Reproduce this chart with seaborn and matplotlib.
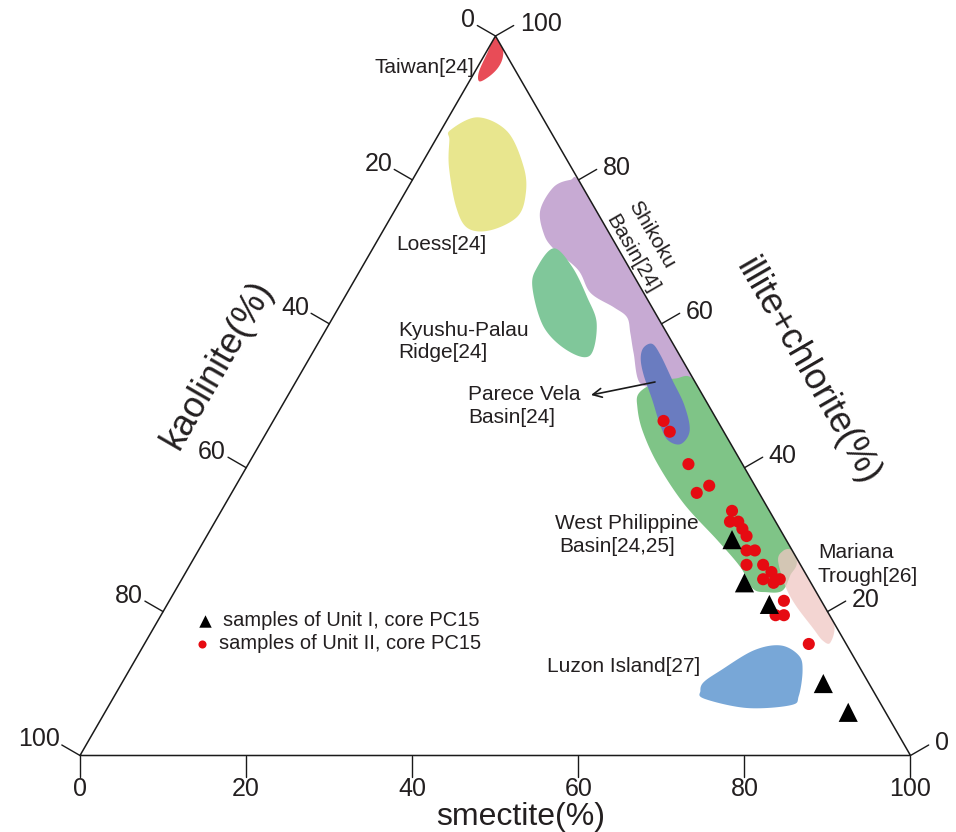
import numpy as np
import pandas as pd
import matplotlib
matplotlib.use("Agg")
import matplotlib.pyplot as plt
from matplotlib.patches import Polygon
import seaborn as sns

# ---------------- data (percent) ----------------
# core PC15, Unit I samples
unit1_smectite = [63.5, 68.0, 72.5, 84.5, 89.5]
unit1_illite_chlorite = [30.0, 24.0, 21.0, 10.0, 6.0]
unit1_kaolinite = [6.5, 8.0, 6.5, 5.5, 4.5]

# core PC15, Unit II samples
unit2_smectite = [47.0, 48.5, 53.0, 57.0, 56.0, 61.5, 62.0, 63.0, 64.0, 65.0, 66.0, 67.0,
                  67.0, 69.0, 70.0, 70.5, 71.5, 72.0, 71.5, 74.0, 74.0, 75.0, 80.0]
unit2_illite_chlorite = [46.5, 45.0, 40.5, 37.5, 36.5, 34.0, 32.5, 32.5, 31.5, 30.5, 28.5, 28.5,
                         26.5, 26.5, 24.5, 25.5, 24.5, 24.5, 24.0, 21.5, 19.5, 19.5, 15.5]
unit2_kaolinite = [6.5, 6.5, 6.5, 5.5, 7.5, 4.5, 5.5, 4.5, 4.5, 4.5, 5.5, 4.5,
                   6.5, 4.5, 5.5, 4.0, 4.0, 3.5, 4.5, 4.5, 6.5, 5.5, 4.5]

# reference source fields, outlines as (smectite, illite+chlorite)
taiwan_smectite = [0.0, 1.6, 2.4, 2.5, 2.0, 1.2, 0.5, 0.2]
taiwan_illite = [100.0, 98.5, 96.9, 95.5, 94.3, 93.7, 95.0, 97.6]

loess_smectite = [1.1, 3.5, 8.1, 12.5, 14.6, 15.2, 12.9, 10.0, 7.1, 3.5, 1.7]
loess_illite = [86.9, 88.7, 86.7, 81.8, 78.1, 74.9, 73.0, 73.3, 76.3, 81.8, 85.5]

shikoku_smectite = [17.5, 17.5, 19.0, 20.3, 28.0, 36.0, 43.0, 47.6, 44.4, 41.6, 38.7, 36.9,
                    35.4, 33.1, 29.3, 26.2, 21.7, 19.5]
shikoku_illite = [75.8, 79.0, 80.0, 79.7, 72.0, 64.0, 57.0, 52.4, 51.5, 51.7, 55.9, 58.7,
                  60.9, 62.3, 64.3, 67.5, 70.5, 72.6]

kyushu_smectite = [21.8, 21.1, 21.9, 26.0, 30.5, 33.6, 32.2, 29.2, 25.3]
kyushu_illite = [70.5, 67.9, 65.1, 59.6, 56.3, 55.6, 60.0, 63.7, 67.9]

parece_smectite = [39.5, 40.3, 42.1, 45.2, 48.4, 50.8, 50.7, 48.9, 46.9, 44.2, 41.4, 39.9]
parece_illite = [56.7, 57.2, 55.6, 52.2, 48.7, 45.2, 43.3, 43.8, 45.9, 49.4, 52.9, 55.2]

wpb_smectite = [42.9, 42.1, 43.2, 45.5, 47.8, 54.0, 60.0, 66.0, 72.4, 73.0, 73.1, 71.3,
                69.4, 66.4, 61.8, 55.2, 49.2, 45.1]
wpb_illite = [48.4, 50.3, 51.7, 52.4, 52.2, 46.0, 40.0, 34.0, 27.6, 25.0, 22.9, 22.7,
              23.2, 26.2, 29.9, 35.0, 40.6, 45.2]

mariana_smectite = [70.5, 70.4, 71.2, 72.5, 77.0, 81.5, 82.5, 81.4, 79.4, 75.7, 73.1]
mariana_illite = [27.1, 28.4, 28.65, 27.5, 23.0, 18.5, 15.7, 16.0, 17.7, 20.9, 23.6]

luzon_smectite = [70.2, 71.2, 77.0, 82.1, 82.4, 81.1, 79.6, 76.7, 73.8, 71.2, 70.0]
luzon_illite = [9.0, 7.9, 6.6, 7.0, 8.3, 11.8, 13.9, 15.3, 14.6, 11.8, 10.2]

tick_values = [0, 20, 40, 60, 80, 100]

# ---------------- ternary projection ----------------
# canvas in pixel units: kaolinite apex (left), smectite apex (right), illite+chlorite apex (top)
V_K = np.array([80.0, 755.5])
V_S = np.array([910.5, 755.5])
V_I = np.array([495.5, 36.0])


def tern(s, i):
    s = np.asarray(s, float) / 100.0
    i = np.asarray(i, float) / 100.0
    k = 1.0 - s - i
    x = k * V_K[0] + s * V_S[0] + i * V_I[0]
    y = k * V_K[1] + s * V_S[1] + i * V_I[1]
    return x, y


def smooth_closed(x, y, n=14):
    pts = np.column_stack([x, y])
    m = len(pts)
    t = np.linspace(0, 1, n, endpoint=False)[:, None]
    out = []
    for j in range(m):
        p0, p1, p2, p3 = pts[(j - 1) % m], pts[j], pts[(j + 1) % m], pts[(j + 2) % m]
        seg = 0.5 * (2 * p1 + (-p0 + p2) * t + (2 * p0 - 5 * p1 + 4 * p2 - p3) * t ** 2
                     + (-p0 + 3 * p1 - 3 * p2 + p3) * t ** 3)
        out.append(seg)
    return np.vstack(out)


sns.set_style("white")
plt.rcParams["font.family"] = ["Liberation Sans", "DejaVu Sans"]
TXT = "#231f20"

fig = plt.figure(figsize=(9.56, 8.32), dpi=100)
ax = fig.add_axes([0, 0, 1, 1])
ax.set_xlim(0, 956)
ax.set_ylim(832, 0)
ax.axis("off")

tri = Polygon([V_K, V_S, V_I], closed=True, facecolor="none", edgecolor="none")
ax.add_patch(tri)

fields = [
    (loess_smectite, loess_illite, "#e8e68e", 1.0),
    (shikoku_smectite, shikoku_illite, "#c7aad3", 1.0),
    (kyushu_smectite, kyushu_illite, "#80c79a", 1.0),
    (wpb_smectite, wpb_illite, "#7fc487", 1.0),
    (parece_smectite, parece_illite, "#6a7cc0", 1.0),
    (mariana_smectite, mariana_illite, "#f0c8c4", 0.75),
    (luzon_smectite, luzon_illite, "#78a7d7", 1.0),
    (taiwan_smectite, taiwan_illite, "#e84c57", 1.0),
]
for s_vals, i_vals, col, alpha in fields:
    fx, fy = tern(s_vals, i_vals)
    patch = Polygon(smooth_closed(fx, fy), closed=True, facecolor=col,
                    edgecolor="none", alpha=alpha, zorder=2)
    ax.add_patch(patch)
    patch.set_clip_path(tri)

# triangle frame
frame = np.array([V_K, V_S, V_I, V_K])
ax.plot(frame[:, 0], frame[:, 1], color="#1a1a1a", lw=1.1, zorder=3,
        solid_joinstyle="miter")

# ticks and tick labels
TL = 21.0
c30, s30 = np.cos(np.radians(30)), np.sin(np.radians(30))
for v in tick_values:
    # smectite (bottom)
    x0, y0 = tern(v, 0)
    ax.plot([x0, x0], [y0, y0 + TL], color="#1a1a1a", lw=1.0)
    ax.text(x0, y0 + TL + 20, str(v), ha="center", va="baseline", fontsize=18, color=TXT)
    # kaolinite (left side), kaolinite = v
    x0, y0 = tern(0, 100 - v)
    x1, y1 = x0 - TL * c30, y0 - TL * s30
    ax.plot([x0, x1], [y0, y1], color="#1a1a1a", lw=1.0)
    ax.text(x1 - 2, y1 - 8, str(v), ha="right", va="center_baseline", fontsize=18, color=TXT)
    # illite+chlorite (right side)
    x0, y0 = tern(100 - v, v)
    x1, y1 = x0 + TL * c30, y0 - TL * s30
    ax.plot([x0, x1], [y0, y1], color="#1a1a1a", lw=1.0)
    ax.text(x1 + 6, y1 - 4, str(v), ha="left", va="center_baseline", fontsize=18, color=TXT)

# axis titles
ax.text(521, 825, "smectite(%)", ha="center", va="baseline", fontsize=23, color=TXT)
ax.text(218, 365, "kaolinite(%)", ha="center", va="center", rotation=60,
        rotation_mode="anchor", fontsize=26, color=TXT)
ax.text(807, 372, "illite+chlorite(%)", ha="center", va="center", rotation=-60,
        rotation_mode="anchor", fontsize=26, color=TXT)

# sample points
df1 = pd.DataFrame({"smectite": unit1_smectite, "illite_chlorite": unit1_illite_chlorite,
                    "kaolinite": unit1_kaolinite})
df2 = pd.DataFrame({"smectite": unit2_smectite, "illite_chlorite": unit2_illite_chlorite,
                    "kaolinite": unit2_kaolinite})
for df in (df1, df2):
    df["x"], df["y"] = tern(df["smectite"], df["illite_chlorite"])

sns.scatterplot(data=df2, x="x", y="y", marker="o", s=76, color="#e60b12",
                edgecolor="none", linewidth=0, ax=ax, legend=False, zorder=5)
sns.scatterplot(data=df1, x="x", y="y", marker="^", s=190, color="black",
                edgecolor="none", linewidth=0, ax=ax, legend=False, zorder=6)
ax.set_xlim(0, 956)
ax.set_ylim(832, 0)
ax.set_xlabel("")
ax.set_ylabel("")

# field labels
LF = 15
ax.text(474, 73, "Taiwan[24]", ha="right", va="baseline", fontsize=LF, color=TXT)
ax.text(396, 250, "Loess[24]", ha="left", va="baseline", fontsize=LF, color=TXT)
ax.text(398, 336.5, "Kyushu-Palau", ha="left", va="baseline", fontsize=LF, color=TXT)
ax.text(398, 358, "Ridge[24]", ha="left", va="baseline", fontsize=LF, color=TXT)
ax.text(468, 400, "Parece Vela", ha="left", va="baseline", fontsize=LF, color=TXT)
ax.text(468, 423, "Basin[24]", ha="left", va="baseline", fontsize=LF, color=TXT)
ax.text(555, 529, "West Philippine", ha="left", va="baseline", fontsize=LF, color=TXT)
ax.text(559, 552, "Basin[24,25]", ha="left", va="baseline", fontsize=LF, color=TXT)
ax.text(818, 558, "Mariana", ha="left", va="baseline", fontsize=LF, color=TXT)
ax.text(818, 582, "Trough[26]", ha="left", va="baseline", fontsize=LF, color=TXT)
ax.text(547, 672, "Luzon Island[27]", ha="left", va="baseline", fontsize=LF, color=TXT)
ax.text(651, 235, "Shikoku", ha="center", va="center", rotation=-60,
        rotation_mode="anchor", fontsize=LF, color=TXT)
ax.text(632, 254, "Basin[24]", ha="center", va="center", rotation=-60,
        rotation_mode="anchor", fontsize=LF, color=TXT)

ax.annotate("", xy=(591, 395), xytext=(655, 382),
            arrowprops=dict(arrowstyle="->", color="#1a1a1a", lw=1.2,
                            mutation_scale=16, shrinkA=0, shrinkB=0), zorder=7)

# legend
ax.scatter([205], [621], marker="^", s=80, color="black", linewidths=0, zorder=6)
ax.scatter([202], [644], marker="o", s=34, color="#e60b12", linewidths=0, zorder=6)
ax.text(223, 626, "samples of Unit I, core PC15", ha="left", va="baseline",
        fontsize=14.5, color=TXT)
ax.text(219, 649, "samples of Unit II, core PC15", ha="left", va="baseline",
        fontsize=14.5, color=TXT)

fig.savefig("out.png", dpi=100, facecolor="white")
